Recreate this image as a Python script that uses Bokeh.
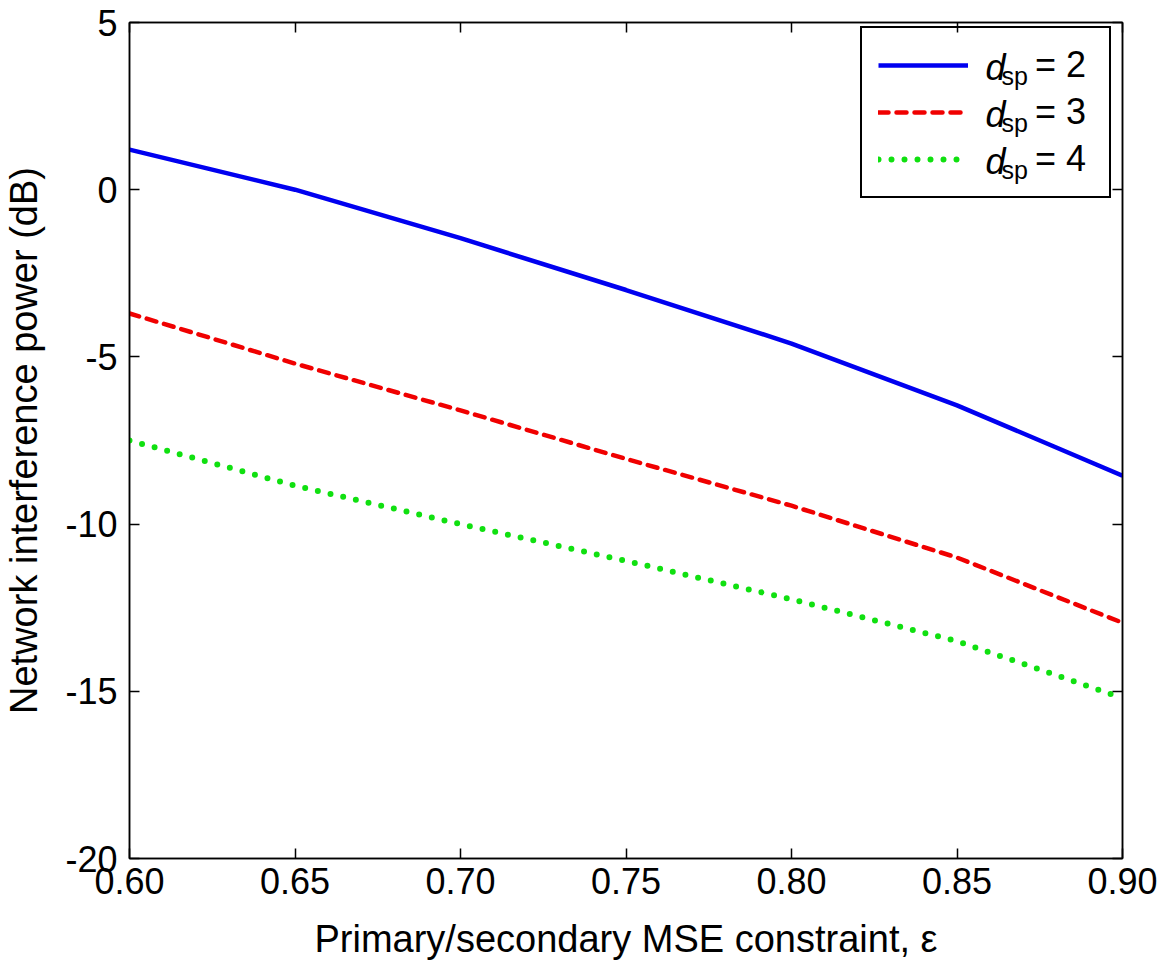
from bokeh.plotting import figure
from bokeh.models import (Range1d, FixedTicker, LinearAxis, Legend, LegendItem, Label)
from bokeh.embed import file_html
from bokeh.resources import INLINE

# ---- data ----
eps = [0.60, 0.65, 0.70, 0.75, 0.80, 0.85, 0.90]
dsp2 = [1.2, 0.0, -1.45, -3.0, -4.6, -6.45, -8.55]
dsp3 = [-3.7, -5.2, -6.6, -8.05, -9.45, -11.0, -12.95]
dsp4 = [-7.5, -8.85, -10.0, -11.1, -12.25, -13.5, -15.2]

x_ticks = [0.60, 0.65, 0.70, 0.75, 0.80, 0.85, 0.90]
x_tick_labels = ["0.60", "0.65", "0.70", "0.75", "0.80", "0.85", "0.90"]
y_ticks = [-20, -15, -10, -5, 0, 5]
y_tick_labels = ["-20", "-15", "-10", "-5", "0", "5"]

legend_values = ["= 2", "= 3", "= 4"]
x_label = "Primary/secondary MSE constraint, \u03b5"
y_label = "Network interference power (dB)"

FONT = "Liberation Sans"
FS = "36px"
FS_LABEL = "38px"

W, H = 1164, 976
FL, FR, FT, FB = 125, 1122, 22, 858

p = figure(width=W, height=H, output_backend="svg", toolbar_location=None,
           x_range=Range1d(0.60, 0.90), y_range=Range1d(-20, 5),
           min_border_left=FL, min_border_right=W - FR,
           min_border_top=FT, min_border_bottom=H - FB,
           background_fill_color="white", border_fill_color="white")
p.grid.visible = False
p.outline_line_color = "black"
p.outline_line_width = 1.5

def style_axis(ax, ticks, labels, show_labels=True):
    ax.ticker = FixedTicker(ticks=ticks)
    ax.minor_tick_line_color = None
    ax.major_tick_in = 10
    ax.major_tick_out = 0
    ax.major_tick_line_color = "black"
    ax.major_tick_line_width = 1.5
    ax.axis_line_color = "black"
    ax.axis_line_width = 1.5
    ax.major_label_text_font = FONT
    ax.major_label_text_color = "black"
    ax.major_label_text_font_size = FS
    if show_labels:
        ax.major_label_overrides = {t: l for t, l in zip(ticks, labels)}
    else:
        ax.major_label_overrides = {t: "" for t in ticks}
        ax.major_label_standoff = 0

xa = p.xaxis[0]
style_axis(xa, x_ticks, x_tick_labels)
xa.major_label_standoff = 9
xa.axis_label = x_label
xa.axis_label_text_font = FONT
xa.axis_label_text_font_size = FS_LABEL
xa.axis_label_text_font_style = "normal"
xa.axis_label_text_color = "black"
xa.axis_label_standoff = 21

ya = p.yaxis[0]
style_axis(ya, y_ticks, y_tick_labels)
ya.major_label_standoff = 12
ya.axis_label = y_label
ya.axis_label_text_font = FONT
ya.axis_label_text_font_size = FS_LABEL
ya.axis_label_text_font_style = "normal"
ya.axis_label_text_color = "black"
ya.axis_label_standoff = 17

top = LinearAxis()
style_axis(top, x_ticks, x_tick_labels, show_labels=False)
p.add_layout(top, "above")
right = LinearAxis()
style_axis(right, y_ticks, y_tick_labels, show_labels=False)
p.add_layout(right, "right")

r2 = p.line(eps, dsp2, line_color="#0000f0", line_width=4.5)
r3 = p.line(eps, dsp3, line_color="#f00000", line_width=4.5,
            line_dash="10 8", line_cap="round")
r4 = p.line(eps, dsp4, line_color="#10e010", line_width=6,
            line_dash="0 13", line_cap="round")

legend = Legend(items=[LegendItem(label=legend_values[0], renderers=[r2]),
                       LegendItem(label=legend_values[1], renderers=[r3]),
                       LegendItem(label=legend_values[2], renderers=[r4])],
                location=(731, 660))
legend.padding = 16
legend.spacing = 5
legend.glyph_width = 90
legend.glyph_height = 42
legend.label_height = 42
legend.label_width = 58
legend.label_standoff = 67
legend.label_text_font = FONT
legend.label_text_font_size = FS
legend.label_text_color = "black"
legend.border_line_color = "black"
legend.border_line_width = 2
legend.border_line_alpha = 1.0
legend.background_fill_alpha = 0.0
p.add_layout(legend, "center")

# italic "d" with subscript "sp" in front of each legend label
item_centers = [67, 114, 161]
for cy in item_centers:
    p.add_layout(Label(x=856, y=FB - cy, x_units="screen", y_units="screen",
                       text="d", text_font=FONT, text_font_size=FS,
                       text_font_style="italic", text_baseline="middle",
                       text_align="left", text_color="black"))
    p.add_layout(Label(x=872, y=FB - cy - 8, x_units="screen", y_units="screen",
                       text="sp", text_font=FONT, text_font_size="25px",
                       text_baseline="middle", text_align="left",
                       text_color="black"))

open("out.html", "w").write(file_html(p, INLINE))
